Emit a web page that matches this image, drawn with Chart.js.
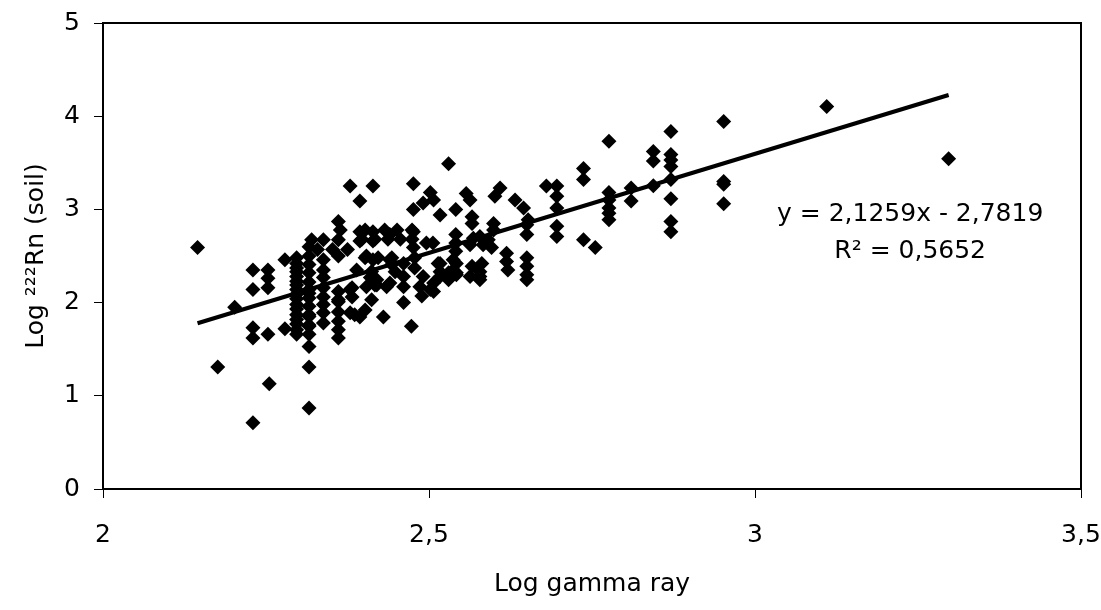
<!DOCTYPE html>
<html>
<head>
<meta charset="utf-8">
<script src="https://cdn.jsdelivr.net/npm/chart.js@4.4.1/dist/chart.umd.min.js"></script>
<style>
  html, body { margin: 0; padding: 0; background: #fff; }
  canvas { display: block; }
</style>
</head>
<body>
<canvas id="myChart" width="1101" height="610"></canvas>
<script>
// log gamma ray (x) and log 222Rn soil (y)
var logGamma = [
  2.145, 2.176, 2.202, 2.230, 2.230, 2.230, 2.230, 2.230, 2.253, 2.253, 2.253, 2.253, 2.255, 2.279, 2.279,
  2.297, 2.297, 2.297, 2.297, 2.297, 2.297, 2.297, 2.297, 2.297, 2.297, 2.297, 2.297, 2.297, 2.297, 2.297, 2.297, 2.297,
  2.316, 2.316, 2.316, 2.316, 2.316, 2.316, 2.316, 2.316, 2.316, 2.316, 2.316, 2.316, 2.316, 2.316, 2.316, 2.316, 2.316,
  2.320,
  2.338, 2.338, 2.338, 2.338, 2.338, 2.338, 2.338, 2.338, 2.338,
  2.329, 2.352,
  2.361, 2.361, 2.361, 2.361, 2.361, 2.361, 2.361, 2.361, 2.361, 2.361,
  2.364, 2.375,
  2.379, 2.379, 2.379,
  2.382, 2.382, 2.386, 2.389,
  2.394, 2.394, 2.394, 2.394,
  2.397,
  2.402, 2.402, 2.402,
  2.404, 2.404, 2.410, 2.412, 2.412,
  2.414, 2.414, 2.414, 2.414,
  2.417, 2.417, 2.420, 2.420, 2.422, 2.430, 2.432, 2.435, 2.437,
  2.440, 2.440, 2.440, 2.443, 2.443, 2.448, 2.451, 2.456,
  2.461, 2.461, 2.461, 2.461,
  2.473, 2.474, 2.474,
  2.476, 2.476, 2.476, 2.476,
  2.478, 2.478, 2.486, 2.489, 2.491, 2.491, 2.496,
  2.502, 2.502, 2.507, 2.507, 2.507, 2.506, 2.514,
  2.517, 2.517, 2.517, 2.517,
  2.530, 2.530, 2.530, 2.537, 2.537,
  2.541, 2.541, 2.541, 2.541, 2.542, 2.542, 2.542,
  2.557, 2.563, 2.563, 2.563, 2.566, 2.566, 2.566, 2.568,
  2.578, 2.578, 2.578, 2.578, 2.581, 2.583, 2.591, 2.596, 2.599, 2.599, 2.601, 2.609,
  2.619, 2.619, 2.621, 2.632, 2.645,
  2.650, 2.650, 2.650, 2.650, 2.650, 2.650, 2.652,
  2.680, 2.696, 2.696, 2.696, 2.696, 2.696,
  2.737, 2.737, 2.737, 2.755,
  2.776, 2.776, 2.776, 2.776, 2.776, 2.776,
  2.810, 2.810, 2.844, 2.844, 2.844,
  2.871, 2.871, 2.871, 2.871, 2.871, 2.871, 2.871, 2.871,
  2.952, 2.952, 2.952, 2.952,
  3.110, 3.297
];
var logRadon = [
  2.59, 1.31, 1.95, 2.35, 2.14, 1.73, 1.62, 0.71, 2.35, 2.26, 2.16, 1.66, 1.13, 2.46, 1.72,
  2.48, 2.42, 2.37, 2.33, 2.28, 2.23, 2.19, 2.14, 2.09, 2.04, 1.98, 1.93, 1.87, 1.82, 1.77, 1.71, 1.66,
  2.60, 2.50, 2.41, 2.32, 2.22, 2.14, 2.10, 2.05, 1.96, 1.87, 1.85, 1.76, 1.745, 1.66, 1.53, 1.31, 0.87,
  2.675,
  2.675, 2.46, 2.35, 2.27, 2.16, 2.06, 1.98, 1.89, 1.78,
  2.57, 2.57,
  2.87, 2.675, 2.50, 2.12, 2.03, 2.01, 1.90, 1.80, 1.71, 1.62,
  2.78, 2.57,
  3.25, 2.14, 1.89,
  2.16, 2.06, 1.87, 2.35,
  3.09, 2.76, 2.66, 1.845,
  2.68,
  2.78, 2.48, 1.92,
  2.50, 2.17, 2.27, 2.335, 2.03,
  3.25, 2.76, 2.66, 2.46,
  2.68, 2.19, 2.245, 2.19, 2.48, 1.845, 2.78, 2.17, 2.68,
  2.73, 2.46, 2.21, 2.48, 2.41, 2.33, 2.78, 2.68,
  2.42, 2.28, 2.17, 2.00,
  1.745, 2.78, 2.68,
  3.275, 3.00, 2.76, 2.59,
  2.48, 2.37, 2.17, 2.07, 3.07, 2.28, 2.64,
  3.18, 2.14, 3.10, 2.21, 2.12, 2.64, 2.42,
  2.94, 2.42, 2.33, 2.28,
  3.49, 2.32, 2.245, 2.46, 2.35,
  3.00, 2.73, 2.64, 2.55, 2.42, 2.32, 2.30,
  3.17, 3.10, 2.62, 2.28, 2.92, 2.85, 2.39, 2.69,
  2.71, 2.33, 2.28, 2.245, 2.42, 2.62, 2.675, 2.59, 2.85, 2.78, 3.14, 3.23,
  2.53, 2.44, 2.35, 3.10, 3.015,
  2.836, 2.73, 2.48, 2.39, 2.30, 2.245, 2.89,
  3.25, 3.25, 3.14, 3.015, 2.82, 2.71,
  3.44, 3.32, 2.675, 2.59,
  3.73, 3.18, 3.10, 3.015, 2.96, 2.89,
  3.23, 3.09, 3.62, 3.52, 3.254,
  3.837, 3.59, 3.53, 3.46, 3.32, 3.115, 2.87, 2.76,
  3.944, 3.30, 3.27, 3.06,
  4.105, 3.544
];

// linear trend line as printed on the chart
var slope = 2.1259;
var intercept = -2.7819;
var trendX = [2.145, 3.297];
var rSquared = "0,5652";

var xTicks = [2, 2.5, 3, 3.5];
var yTicks = [0, 1, 2, 3, 4, 5];

var points = [];
for (var i = 0; i < logGamma.length; i++) {
  points.push({ x: logGamma[i], y: logRadon[i] });
}
var trend = trendX.map(function (x) { return { x: x, y: slope * x + intercept }; });

function comma(v) { return String(v).replace('.', ','); }

var FONT = "'DejaVu Sans', sans-serif";
var FS = 25;

// box round the plot area and the equation text
var frame = {
  id: 'frame',
  afterDraw: function (chart) {
    var ctx = chart.ctx, a = chart.chartArea;
    ctx.save();
    ctx.strokeStyle = '#000';
    ctx.lineWidth = 2;
    ctx.strokeRect(a.left, a.top, a.right - a.left, a.bottom - a.top);
    ctx.fillStyle = '#000';
    ctx.font = FS + 'px ' + FONT;
    ctx.textAlign = 'center';
    ctx.textBaseline = 'middle';
    var cx = chart.scales.x.getPixelForValue(3.238);
    ctx.fillText('y = ' + comma(slope) + 'x - ' + comma(-intercept), cx, chart.scales.y.getPixelForValue(2.94));
    ctx.fillText('R\u00b2 = ' + rSquared, cx, chart.scales.y.getPixelForValue(2.55));
    ctx.restore();
  }
};

new Chart(document.getElementById('myChart').getContext('2d'), {
  type: 'scatter',
  data: {
    datasets: [
      {
        label: 'data',
        data: points,
        pointStyle: 'rectRot',
        pointRadius: 7.5,
        pointBorderWidth: 0,
        backgroundColor: '#000',
        borderColor: '#000',
        order: 2
      },
      {
        label: 'trend',
        type: 'line',
        data: trend,
        borderColor: '#000',
        borderWidth: 4,
        pointRadius: 0,
        fill: false,
        order: 1
      }
    ]
  },
  options: {
    responsive: false,
    animation: false,
    devicePixelRatio: 1,
    layout: { padding: { top: 23, right: 20, left: 0, bottom: 0 } },
    plugins: { legend: { display: false }, tooltip: { enabled: false } },
    scales: {
      x: {
        type: 'linear',
        min: 2, max: 3.5,
        afterBuildTicks: function (s) { s.ticks = xTicks.map(function (v) { return { value: v }; }); },
        afterFit: function (s) { s.height = 121; s.paddingLeft = 0; s.paddingRight = 0; },
        grid: { drawOnChartArea: false, drawTicks: true, tickLength: 9, color: '#000', lineWidth: 1 },
        border: { color: '#000', width: 2 },
        ticks: { color: '#000', font: { family: FONT, size: FS }, padding: 22, maxRotation: 0, callback: function (v) { return comma(v); } },
        title: { display: true, text: 'Log gamma ray', color: '#000', font: { family: FONT, size: FS }, padding: { top: 0, bottom: 11 } }
      },
      y: {
        min: 0, max: 5,
        afterBuildTicks: function (s) { s.ticks = yTicks.map(function (v) { return { value: v }; }); },
        afterFit: function (s) { s.width = 103; s.paddingTop = 0; s.paddingBottom = 0; },
        grid: { drawOnChartArea: false, drawTicks: true, tickLength: 9, color: '#000', lineWidth: 1 },
        border: { color: '#000', width: 2 },
        ticks: { color: '#000', font: { family: FONT, size: FS }, padding: 14, callback: function (v) { return comma(v); } },
        title: { display: true, text: 'Log \u00b2\u00b2\u00b2Rn (soil)', color: '#000', font: { family: FONT, size: FS }, padding: { top: 21, bottom: 0 } }
      }
    }
  },
  plugins: [frame]
});
</script>
</body>
</html>
